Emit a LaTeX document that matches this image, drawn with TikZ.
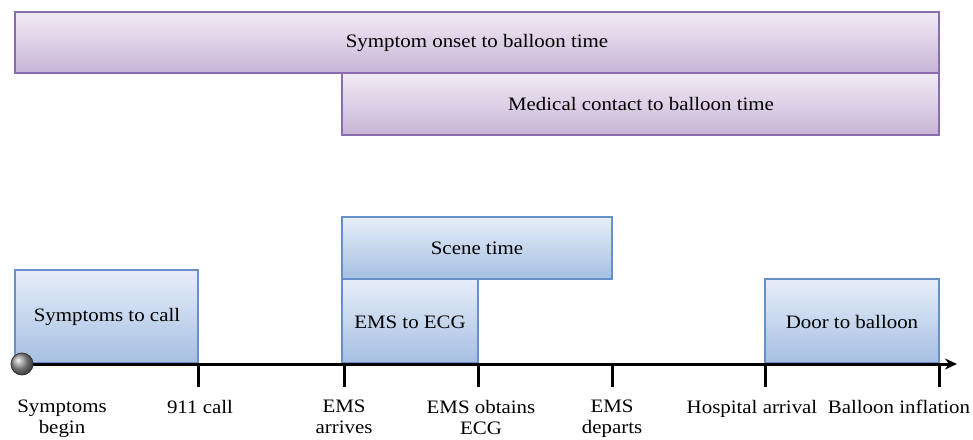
\documentclass[tikz,border=0pt]{standalone}
\usepackage{fontspec}
\setmainfont{Liberation Serif}[FakeStretch=1.1]
\usetikzlibrary{arrows.meta}
\definecolor{pTop}{HTML}{F1ECF5}
\definecolor{pBot}{HTML}{C8B4D6}
\definecolor{pLine}{HTML}{8A6DAE}
\definecolor{bTop}{HTML}{E6EEF8}
\definecolor{bBot}{HTML}{A6BFE2}
\definecolor{bLine}{HTML}{6990C6}
\tikzset{
  purplebox/.style={draw=pLine, line width=1.2pt, top color=pTop, bottom color=pBot, inner sep=0pt},
  bluebox/.style={draw=bLine, line width=1.2pt, top color=bTop, bottom color=bBot, inner sep=0pt},
  txt/.style={font=\fontsize{19}{21}\selectfont},
  lab/.style={font=\fontsize{19}{21}\selectfont, align=center, anchor=north, inner sep=0pt},
  tick/.style={line width=3pt},
}
\begin{document}
\begin{tikzpicture}[x=1pt,y=-1pt]
\useasboundingbox (0,0) rectangle (973,439);
% purple bars
\draw[purplebox] (15,12) rectangle (939,73);
\node[txt] (onset) at (477,43) {Symptom onset to balloon time};
\draw[purplebox] (342,73) rectangle (939,135);
\node[txt] (medical) at (641,104) {Medical contact to balloon time};
% blue boxes
\draw[bluebox] (342,217) rectangle (612,279);
\node[txt] (scene) at (477,248) {Scene time};
\draw[bluebox] (15,270) rectangle (198,363);
\node[txt] (s2c) at (107,317) {Symptoms to call};
\draw[bluebox] (342,279) rectangle (478,363);
\node[txt] (e2e) at (410,322) {EMS to ECG};
\draw[bluebox] (765,279) rectangle (939,363);
\node[txt] (d2b) at (852,322) {Door to balloon};
% axis
\coordinate (start) at (22,364);
\coordinate (end) at (957,364);
\draw[line width=3pt, -{Stealth[length=12pt,width=11pt]}] (start) -- (end);
\shade[ball color=gray!80] (start) circle (11);
\draw[draw=black!80, line width=0.8pt] (start) circle (11);
% ticks
\foreach \x in {198,344,478,612,765,939} {
  \draw[tick] (\x,364) -- (\x,387);
}
% labels
\node[lab] (l1) at (62,400) {Symptoms\\begin};
\node[lab] (l2) at (200,400) {911 call};
\node[lab] (l3) at (344,400) {EMS\\arrives};
\node[lab] (l4) at (481,400) {EMS obtains\\ECG};
\node[lab] (l5) at (612,400) {EMS\\departs};
\node[lab] (l6) at (752,400) {Hospital arrival};
\node[lab] (l7) at (899,400) {Balloon inflation};
\end{tikzpicture}
\end{document}
